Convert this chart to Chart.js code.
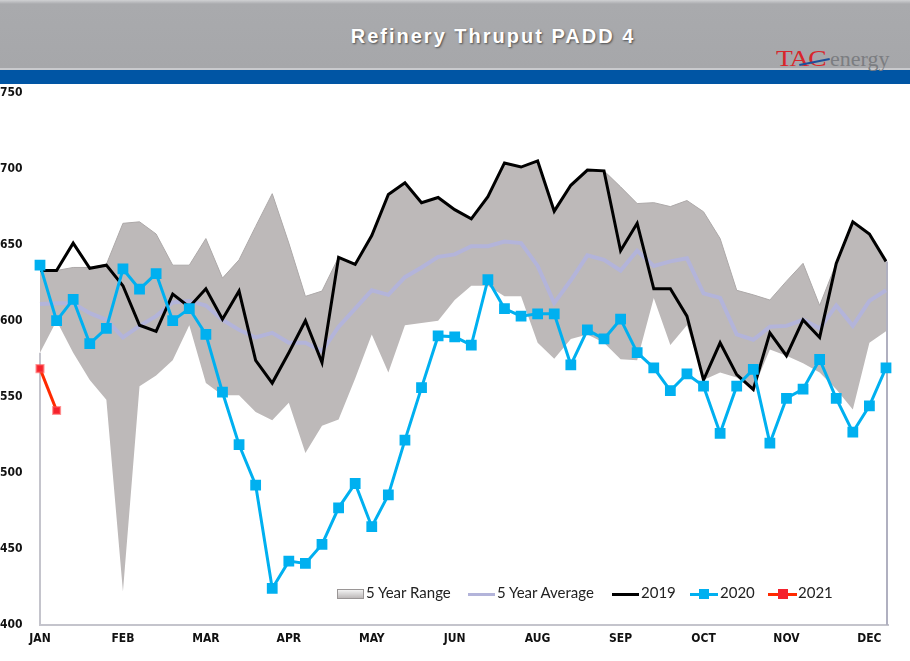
<!DOCTYPE html>
<html lang="en">
  <head>
    <meta charset="UTF-8" />
    <title>Refinery Thruput PADD 4</title>
    <script src="https://cdn.jsdelivr.net/npm/chart.js"></script>
    <style>
      body { margin: 0; background: #fff; width: 910px; height: 661px; overflow: hidden; position: relative; }
      .hdr { position: absolute; left: 0; top: 0; width: 910px; height: 68px;
        background: linear-gradient(#d0d1d3 0px, #a9aaad 4px, #a6a7aa 100%); }
      .hdr-line { position: absolute; left: 0; top: 68px; width: 910px; height: 2px; background: #c9cacd; }
      .blue { position: absolute; left: 0; top: 70px; width: 910px; height: 14px; background: #0055a4; }
      .title { position: absolute; left: 0; width: 986px; top: 25px; text-align: center; line-height: 1;
        font: bold 20px "Liberation Sans", Arial, sans-serif; letter-spacing: 2px; color: #fff;
        text-shadow: 1px 1px 2px rgba(0,0,0,0.55); }
      .logo-tac { position: absolute; left: 776px; top: 45px; line-height: 1; font: 24px "Liberation Serif", serif;
        color: #d8262b; transform: scaleX(1.15); transform-origin: left top; letter-spacing: -1px; }
      .logo-en { position: absolute; left: 830px; top: 46px; line-height: 1; font: 22px "Liberation Serif", serif; color: #7b7d81; }
      .swoosh { position: absolute; left: 799px; top: 61px; width: 31px; height: 2px; background: #1d4f9a; transform: rotate(-11deg); }
      .wrap { position: absolute; left: 0; top: 84px; width: 910px; height: 577px; }
      .legend { position: absolute; top: 583px; left: 337px; height: 20px; white-space: nowrap;
        font: 15px Lato, "Open Sans", sans-serif; color: #222; }
      .legend span { position: absolute; top: 0; }
      .legend i { position: absolute; display: block; }
    </style>
  </head>
  <body>
    <div class="hdr"></div>
    <div class="hdr-line"></div>
    <div class="blue"></div>
    <div class="title">Refinery Thruput PADD 4</div>
    <div class="logo-tac">TAC</div>
    <div class="logo-en">energy</div>
    <div class="swoosh"></div>

    <div class="wrap"><canvas id="refChart" width="910" height="577"></canvas></div>

    <div class="legend">
      <i style="left:0; top:6px; width:25px; height:8px; background:linear-gradient(#f2f2f2,#bdb9b9); border:1px solid #9a9696;"></i>
      <span style="left:29px;">5 Year Range</span>
      <i style="left:131px; top:10px; width:27px; height:3px; background:#b3b4da;"></i>
      <span style="left:160px;">5 Year Average</span>
      <i style="left:275px; top:10px; width:27px; height:3px; background:#000;"></i>
      <span style="left:304px;">2019</span>
      <i style="left:353px; top:10px; width:28px; height:3px; background:#00b0f0;"></i>
      <i style="left:362px; top:6px; width:10px; height:10px; background:#00b0f0;"></i>
      <span style="left:383px;">2020</span>
      <i style="left:431px; top:10px; width:29px; height:3px; background:#ff2a00;"></i>
      <i style="left:441px; top:6px; width:10px; height:10px; background:#f5222d;"></i>
      <span style="left:461px;">2021</span>
    </div>

    <script>
      // 52 weekly points, a month label every 5th week
      const monthLabels = ["JAN", "FEB", "MAR", "APR", "MAY", "JUN", "AUG", "SEP", "OCT", "NOV", "DEC"];
      const weeks = [];
      for (let i = 1; i <= 52; i++) weeks.push("W" + i);

      const rangeLow = [579, 600, 579, 561, 548, 422, 557, 564, 574, 597, 559, 551, 551, 540, 534.5, 546, 513, 531, 535, 562,
        591, 566, 597, 598.5, 600, 613.6, 623, 623, 616, 616, 585.5, 575, 588, 591, 585.5, 574.6, 574, 615, 584, 597,
        561, 566, 562.6, 555, 581, 577, 572, 566, 555, 541.7, 585.5, 593];
      const rangeHigh = [633, 633, 635, 635, 637, 664, 665, 657, 636.5, 636.5, 654, 628, 640, 662, 683.5, 651, 616, 619.5, 641.7, 637,
        656, 683, 690.6, 677.6, 681, 673, 667, 681.5, 703.7, 701, 705, 672, 689, 699, 698.5, 688, 677, 677.6, 675, 679,
        671.6, 654, 620, 617, 613.6, 626, 637.7, 610, 637.7, 665, 657, 639];
      const avg5 = [611, 611.5, 611.5, 605, 600.6, 589, 596.6, 603, 612, 613, 610, 600.6, 594, 589, 592, 585.5, 585.5, 580, 596, 608,
        620, 617, 628.6, 635, 642, 643.6, 649, 649, 652, 651, 636, 611.6, 626.6, 643, 640, 633, 646, 636, 639, 641,
        618, 615, 591, 587.5, 596, 596.6, 600.6, 595, 610, 596.6, 613, 620];
      const y2019 = [633, 633, 651, 634.5, 636.5, 623, 597, 593, 617.5, 609, 621, 601, 619.5, 574, 559, 579, 600, 572.5, 641.7, 637,
        656, 683, 690.6, 677.6, 681, 673, 667, 681.5, 703.7, 701, 705, 672, 689, 699, 698.5, 646, 664, 621, 621, 603,
        561, 585.5, 564.6, 554.8, 592, 577, 600.5, 589, 637.7, 665, 657, 639];
      const y2020 = [636.5, 600, 614, 585, 595, 634, 620.7, 631, 600, 608, 591, 553, 518.5, 492, 424, 442, 440.5, 453, 477, 493,
        464.6, 485.5, 521.5, 556, 590, 589.4, 584, 627, 608, 603, 604.5, 604.5, 571, 594, 588, 601, 579, 569, 554, 565,
        557, 526, 557, 568, 519.5, 549, 555, 574.5, 549, 526.7, 544, 569];
      const y2021 = [568.5, 541];

      const tickFont = { family: "'Liberation Sans Narrow', 'DejaVu Sans Condensed', Arial, sans-serif", size: 12, weight: "bold" };

      // side and bottom edges of the plot, like the stacked-area edges in the original
      const plotBorder = {
        id: "plotBorder",
        beforeDatasetsDraw(chart) {
          const { ctx, chartArea: a, scales } = chart;
          const yL = scales.y.getPixelForValue(rangeLow[0]);
          const yR = scales.y.getPixelForValue(rangeHigh[rangeHigh.length - 1]);
          ctx.save();
          ctx.strokeStyle = "#c4c4cc";
          ctx.lineWidth = 2;
          ctx.beginPath();
          ctx.moveTo(a.left, yL);
          ctx.lineTo(a.left, a.bottom);
          ctx.lineTo(a.right + 3, a.bottom);
          ctx.stroke();
          ctx.strokeStyle = "#b0b0c0";
          ctx.beginPath();
          ctx.moveTo(a.right + 1, yR);
          ctx.lineTo(a.right + 1, a.bottom);
          ctx.stroke();
          ctx.restore();
        },
      };

      const ctx = document.getElementById("refChart").getContext("2d");
      new Chart(ctx, {
        type: "line",
        data: {
          labels: weeks,
          datasets: [
            { label: "low", data: rangeLow, borderColor: "rgba(0,0,0,0)", borderWidth: 0, pointRadius: 0, fill: false, tension: 0, order: 6 },
            { label: "5 Year Range", data: rangeHigh, borderColor: "#ada9a9", borderWidth: 1, backgroundColor: "#bdb9b9", pointRadius: 0, fill: "-1", tension: 0, order: 5 },
            { label: "5 Year Average", data: avg5, borderColor: "#b3b4da", borderWidth: 4, pointRadius: 0, fill: false, order: 4 },
            { label: "2019", data: y2019, borderColor: "#000", borderWidth: 3, pointRadius: 0, fill: false, order: 3 },
            { label: "2020", data: y2020, borderColor: "#00b0f0", backgroundColor: "#00b0f0", borderWidth: 3, pointStyle: "rect", pointRadius: 5.5, fill: false, order: 2 },
            { label: "2021", data: y2021, borderColor: "#ff2a00", backgroundColor: "#f5222d", pointBorderColor: "rgba(255,80,80,0.6)", pointBorderWidth: 2, borderWidth: 3, pointStyle: "rect", pointRadius: 5, fill: false, order: 1 },
          ],
        },
        options: {
          responsive: false,
          animation: false,
          layout: { padding: { top: 4, left: 0, right: 24, bottom: 0 } },
          plugins: { legend: { display: false }, tooltip: { enabled: false } },
          scales: {
            x: {
              offset: false,
              grid: { display: false, drawTicks: false },
              border: { display: false },
              ticks: {
                autoSkip: false,
                maxRotation: 0,
                padding: 7,
                color: "#111",
                font: tickFont,
                callback: (v, i) => (i % 5 === 0 ? monthLabels[i / 5] : ""),
              },
              afterFit: (s) => { s.height = 36; },
            },
            y: {
              min: 400,
              max: 750,
              grid: { display: false, drawTicks: false },
              border: { display: false },
              ticks: { stepSize: 50, color: "#111", font: tickFont, crossAlign: "far", padding: 0 },
              afterFit: (s) => { s.width = 40; },
            },
          },
        },
        plugins: [plotBorder],
      });
    </script>
  </body>
</html>
